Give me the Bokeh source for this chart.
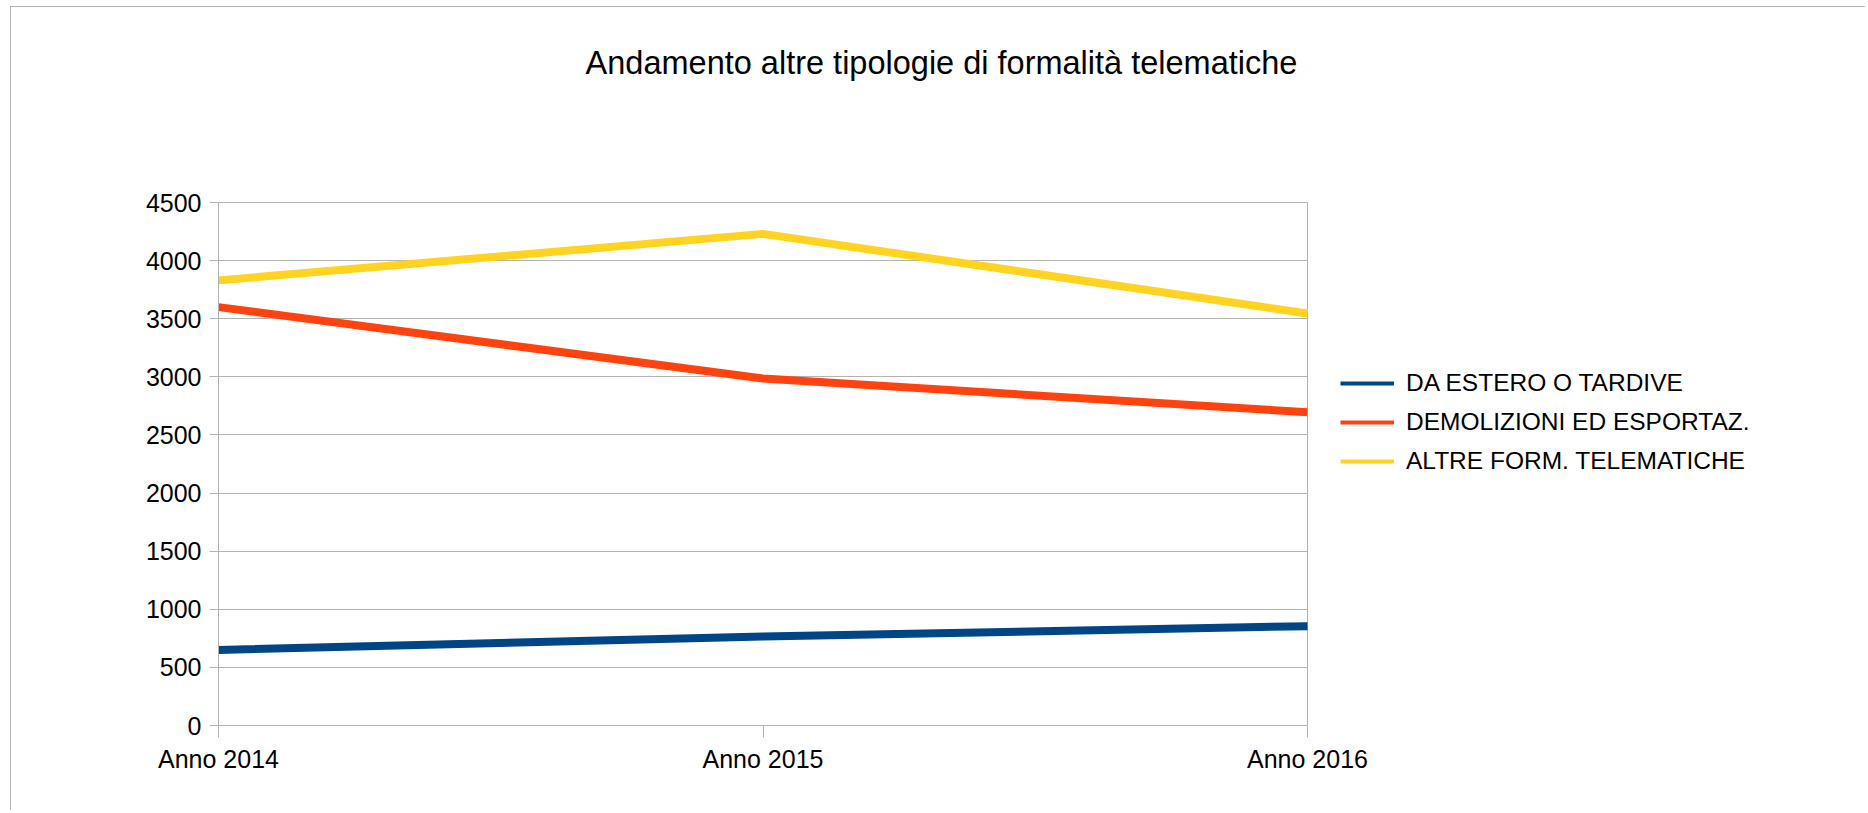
from bokeh.plotting import figure
from bokeh.models import FixedTicker, Legend, LegendItem, Label, Grid
from bokeh.embed import file_html
from bokeh.resources import INLINE

# ---- data ----
categories = ["Anno 2014", "Anno 2015", "Anno 2016"]
da_estero = [650, 765, 855]
demolizioni = [3600, 2985, 2695]
altre_form = [3830, 4230, 3545]
series_names = ["DA ESTERO O TARDIVE", "DEMOLIZIONI ED ESPORTAZ.", "ALTRE FORM. TELEMATICHE"]
series_colors = ["#004586", "#ff420e", "#ffd320"]
y_ticks = [0, 500, 1000, 1500, 2000, 2500, 3000, 3500, 4000, 4500]
title_text = "Andamento altre tipologie di formalità telematiche"

FONT = "Liberation Sans"
GRID = "#b3b3b3"
x_idx = list(range(len(categories)))
x_last = len(categories) - 1
y_max = y_ticks[-1]

# layout (pixels)
W, H = 1855, 804
MB_L, MB_R, MB_T, MB_B = 207, 5, 5, 86
PLOT_W, PLOT_H = 1089, 523          # size of the drawn plot area
frame_w = W - MB_L - MB_R
frame_h = H - MB_T - MB_B
x_end = x_last * frame_w / PLOT_W
y_end = y_max * frame_h / PLOT_H

p = figure(width=W, height=H, output_backend="svg", toolbar_location=None,
           x_range=(0, x_end), y_range=(0, y_end),
           min_border_left=MB_L, min_border_right=MB_R, min_border_top=MB_T,
           min_border_bottom=MB_B)
p.styles = {"border-top": "1px solid #b3b3b3", "border-left": "1px solid #b3b3b3",
            "margin-left": "10px", "margin-top": "6px"}
p.background_fill_color = "white"
p.border_fill_color = "white"
p.outline_line_color = None

# axes
p.xaxis.ticker = FixedTicker(ticks=x_idx)
p.xaxis.major_label_overrides = {i: c for i, c in enumerate(categories)}
p.xaxis.bounds = (0, x_last)
p.yaxis.ticker = FixedTicker(ticks=y_ticks)
p.yaxis.bounds = (0, y_max)
for ax in (p.xaxis, p.yaxis):
    ax.axis_line_color = GRID
    ax.major_tick_line_color = GRID
    ax.minor_tick_line_color = None
    ax.major_tick_in = 0
    ax.major_label_text_font = FONT
    ax.major_label_text_font_size = "25px"
    ax.major_label_text_color = "black"
p.xaxis.major_tick_out = 12
p.yaxis.major_tick_out = 9
p.xaxis.major_label_standoff = 7
p.yaxis.major_label_standoff = 8

# grid: horizontal lines across the plot area only, vertical line at its right edge
p.xgrid.grid_line_color = None
if "cross_bounds" in Grid.properties():
    p.ygrid.ticker = FixedTicker(ticks=y_ticks)
    p.ygrid.grid_line_color = GRID
    p.ygrid.cross_bounds = (0, x_last)
    p.xgrid.ticker = FixedTicker(ticks=[x_last])
    p.xgrid.grid_line_color = GRID
    p.xgrid.cross_bounds = (0, y_max)
else:
    p.ygrid.grid_line_color = None
    p.segment(x0=[0] * len(y_ticks), x1=[x_last] * len(y_ticks), y0=y_ticks, y1=y_ticks,
              line_color=GRID, line_width=1, level="underlay")
    p.segment(x0=[x_last], x1=[x_last], y0=[0], y1=[y_max],
              line_color=GRID, line_width=1, level="underlay")

series = [da_estero, demolizioni, altre_form]
items = []
for vals, name, col in zip(series, series_names, series_colors):
    p.line(x=x_idx, y=vals, line_color=col, line_width=8)
    r = p.line(x=[0], y=[float("nan")], line_color=col, line_width=4)
    items.append(LegendItem(label=name, renderers=[r]))

legend = Legend(items=items, location=(1122, 245))
legend.label_text_font = FONT
legend.label_text_font_size = "24.5px"
legend.label_text_color = "black"
legend.glyph_width = 54
legend.glyph_height = 38
legend.label_height = 38
legend.label_standoff = 12
legend.spacing = 1
legend.padding = 0
legend.margin = 0
legend.border_line_color = None
legend.background_fill_alpha = 0
p.add_layout(legend, "center")

# title (centre of the text, in plot units)
title_x = (941 - 218) / PLOT_W * x_last
title_y = (725 - 62) / PLOT_H * y_max
title = Label(x=title_x, y=title_y, text=title_text, text_font=FONT, text_font_size="32.5px",
              text_color="black", text_align="center", text_baseline="middle")
p.add_layout(title)

open("out.html", "w").write(file_html(p, INLINE))
